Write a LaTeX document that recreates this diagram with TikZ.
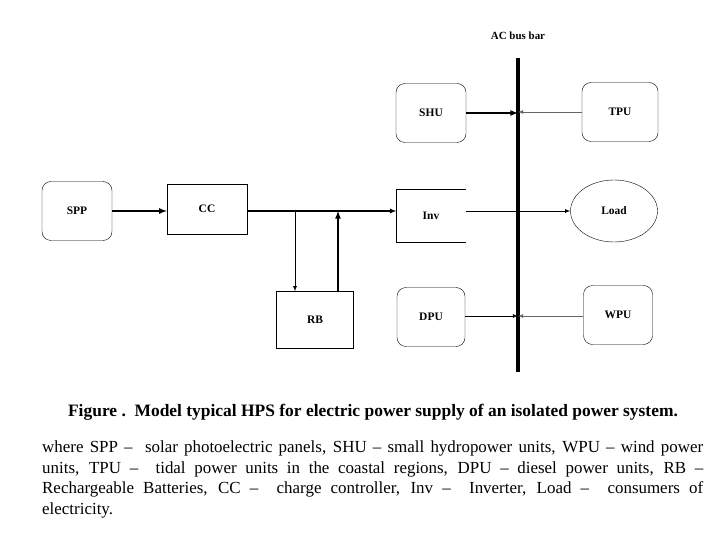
\documentclass[tikz,border=0pt]{standalone}
\usepackage{fontspec}
\setmainfont{Liberation Serif}
\usetikzlibrary{arrows,shapes.geometric}

\begin{document}
\begin{tikzpicture}[x=1bp,y=-1bp,
    unit/.style={draw,rounded corners=9bp,minimum width=70bp,minimum height=59bp,font=\bfseries\fontsize{11.5}{13}\selectfont},
    blockbox/.style={draw,minimum width=78bp,minimum height=53bp,font=\bfseries\fontsize{11.5}{13}\selectfont},
    feed/.style={-latex,line width=0.8bp}]
    \useasboundingbox (0,0) rectangle (720,540);
    \node[font=\bfseries\fontsize{11}{12}\selectfont] (bustitle) at (518,36) {AC bus bar};
    \coordinate (bustop) at (518,58);
    \coordinate (busbot) at (518,372);
    \draw[line width=3.5bp] (bustop) -- (busbot);

    \node[unit] (shu) at (431,113) {SHU};
    \node[unit,minimum width=76bp] (tpu) at (620,112) {TPU};
    \node[unit] (spp) at (77,211) {SPP};
    \node[blockbox,minimum width=80bp,minimum height=50bp] (cc) at (207,209) {CC};
    \node[minimum width=69bp,minimum height=53bp,font=\bfseries\fontsize{11.5}{13}\selectfont] (inv) at (431,216) {Inv};
    \draw (inv.north east) -- (inv.north west) -- (inv.south west) -- (inv.south east);
    \node[draw,ellipse,minimum width=87bp,minimum height=62bp,font=\bfseries\fontsize{11.5}{13}\selectfont] (load) at (614,211) {Load};
    \node[blockbox,minimum width=77bp,minimum height=57bp] (rb) at (315,320) {RB};
    \node[unit,minimum width=68bp] (dpu) at (431,317) {DPU};
    \node[unit,minimum width=69bp] (wpu) at (618,315) {WPU};

    \coordinate (b1) at (518,113);
    \coordinate (b2) at (518,112);
    \coordinate (b3) at (518,211);
    \coordinate (b4) at (518,316);
    \coordinate (j1) at (295,211);
    \coordinate (j2) at (338,211);

    \draw[feed,line width=1.6bp] (shu.east |- b1) -- (b1);
    \draw[feed,black!60] (tpu.west |- b2) -- (b2);
    \draw[feed,line width=1.6bp] (spp.east) -- (cc.west |- spp.east);
    \draw[feed,line width=1.2bp] (cc.east |- b3) -- (inv.west |- b3);
    \draw[line width=0.8bp] (inv.east |- b3) -- (b3);
    \draw[feed] (b3) -- (load.west);
    \draw[feed] (j1) -- (j1 |- rb.north);
    \draw[feed,line width=1.6bp] (j2 |- rb.north) -- (j2);
    \draw[feed] (dpu.east |- b4) -- (b4);
    \draw[feed,black!60] (wpu.west |- b4) -- (b4);

    \node[font=\bfseries\fontsize{17.5}{20}\selectfont] (caption) at (373,412)
        {Figure .\ \ Model typical HPS for electric power supply of an isolated power system.};
    \node[anchor=north west,inner sep=0pt,text width=661bp,align=justify,
          font=\fontsize{17}{20.6}\selectfont] (legend) at (42,441)
        {where SPP --\ \ solar photoelectric panels, SHU -- small hydropower units, WPU -- wind power\linebreak
         units, TPU --\ \ tidal power units in the coastal regions, DPU -- diesel power units, RB --\linebreak
         Rechargeable Batteries, CC --\ \ charge controller, Inv --\ \ Inverter, Load --\ \ consumers of\linebreak
         electricity.};
\end{tikzpicture}
\end{document}
